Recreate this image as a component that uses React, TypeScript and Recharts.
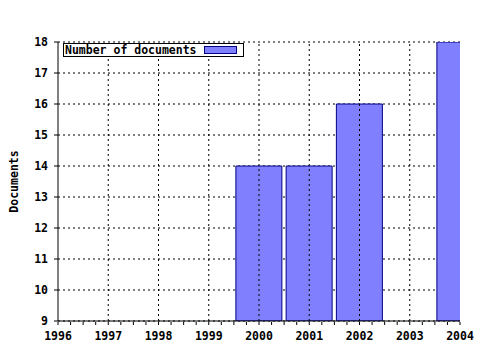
import React from 'react';
import { BarChart, Bar, XAxis, YAxis, CartesianGrid, ReferenceLine, Legend } from 'recharts';

const years = [2000, 2001, 2002, 2004];
const documents = [14, 14, 16, 18];
const innerYears = [1997, 1998, 1999, 2000, 2001, 2002, 2003];
const quarterTicks: number[] = [];
for (let y = 1996; y <= 2004; y += 0.25) quarterTicks.push(y);
const yTicks = [9, 10, 11, 12, 13, 14, 15, 16, 17, 18];
const seriesName = 'Number of documents';

const data = years.map((y, i) => ({ year: y, docs: documents[i] }));

const FONT = '"DejaVu Sans Mono", monospace';

const BottomTick = (props: any) => {
  const { x, y, payload } = props;
  const v = payload.value;
  const isMajor = Math.abs(v - Math.round(v)) < 1e-6;
  return (
    <g>
      <line x1={x} x2={x} y1={y - 5} y2={y - 2} stroke="#000" />
      {isMajor && (
        <text x={x} y={y + 13} textAnchor="middle" fontFamily={FONT} fontWeight="bold" fontSize={11.5} fill="#000">
          {Math.round(v)}
        </text>
      )}
    </g>
  );
};

const LegendContent = () => (
  <div
    style={{
      border: '1px solid #000',
      background: '#fff',
      fontFamily: FONT,
      fontWeight: 'bold',
      fontSize: 11.5,
      lineHeight: '12px',
      height: 14,
      padding: '0px 6px 0px 1px',
      display: 'flex',
      alignItems: 'center',
      color: '#000',
      width: 181,
      boxSizing: 'border-box',
      justifyContent: 'space-between',
    }}
  >
    <span>{seriesName}</span>
    <span style={{ display: 'inline-block', width: 31, height: 6, background: '#8080ff', border: '1px solid #000080' }} />
  </div>
);

export default function App() {
  return (
    <div style={{ position: 'absolute', left: 0, top: 0, width: 480, height: 350, background: '#fff' }}>
      <BarChart width={480} height={350} data={data} margin={{ top: 42, right: 20, left: 0, bottom: 0 }}>
        <CartesianGrid vertical={false} stroke="#000" strokeDasharray="2 3" />
        {innerYears.map((y) => (
          <ReferenceLine key={y} x={y} xAxisId="main" stroke="#000" strokeDasharray="2 3" />
        ))}
        <XAxis
          xAxisId="main"
          dataKey="year"
          type="number"
          domain={[1996, 2004]}
          ticks={quarterTicks}
          interval={0}
          allowDataOverflow
          height={29}
          axisLine={{ stroke: '#000' }}
          tickLine={false}
          tickSize={4}
          tick={<BottomTick />}
        />
        <XAxis
          xAxisId="top"
          orientation="top"
          dataKey="year"
          type="number"
          domain={[1996, 2004]}
          ticks={quarterTicks}
          interval={0}
          height={0}
          axisLine={{ stroke: '#000' }}
          tickLine={{ stroke: '#000' }}
          tickSize={3}
          tick={false}
        />
        <YAxis
          type="number"
          domain={[9, 18]}
          ticks={yTicks}
          interval={0}
          allowDataOverflow
          width={58}
          axisLine={{ stroke: '#000' }}
          tickLine={{ stroke: '#000' }}
          tickSize={4}
          tickMargin={6}
          tick={{ fontFamily: FONT, fontWeight: 'bold', fontSize: 11.5, fill: '#000' }}
          label={{ value: 'Documents', angle: -90, position: 'center', dx: -15, style: { fontFamily: FONT, fontWeight: 'bold', fontSize: 11.5, fill: '#000' } }}
        />
        <Legend
          content={<LegendContent />}
          layout="vertical"
          align="center"
          verticalAlign="middle"
          wrapperStyle={{ left: 63, top: 43, width: 'auto', height: 'auto' }}
        />
        <Bar
          xAxisId="main"
          dataKey="docs"
          name={seriesName}
          barSize={46}
          fill="#8080ff"
          stroke="#000080"
          strokeWidth={1}
          isAnimationActive={false}
        />
      </BarChart>
    </div>
  );
}
